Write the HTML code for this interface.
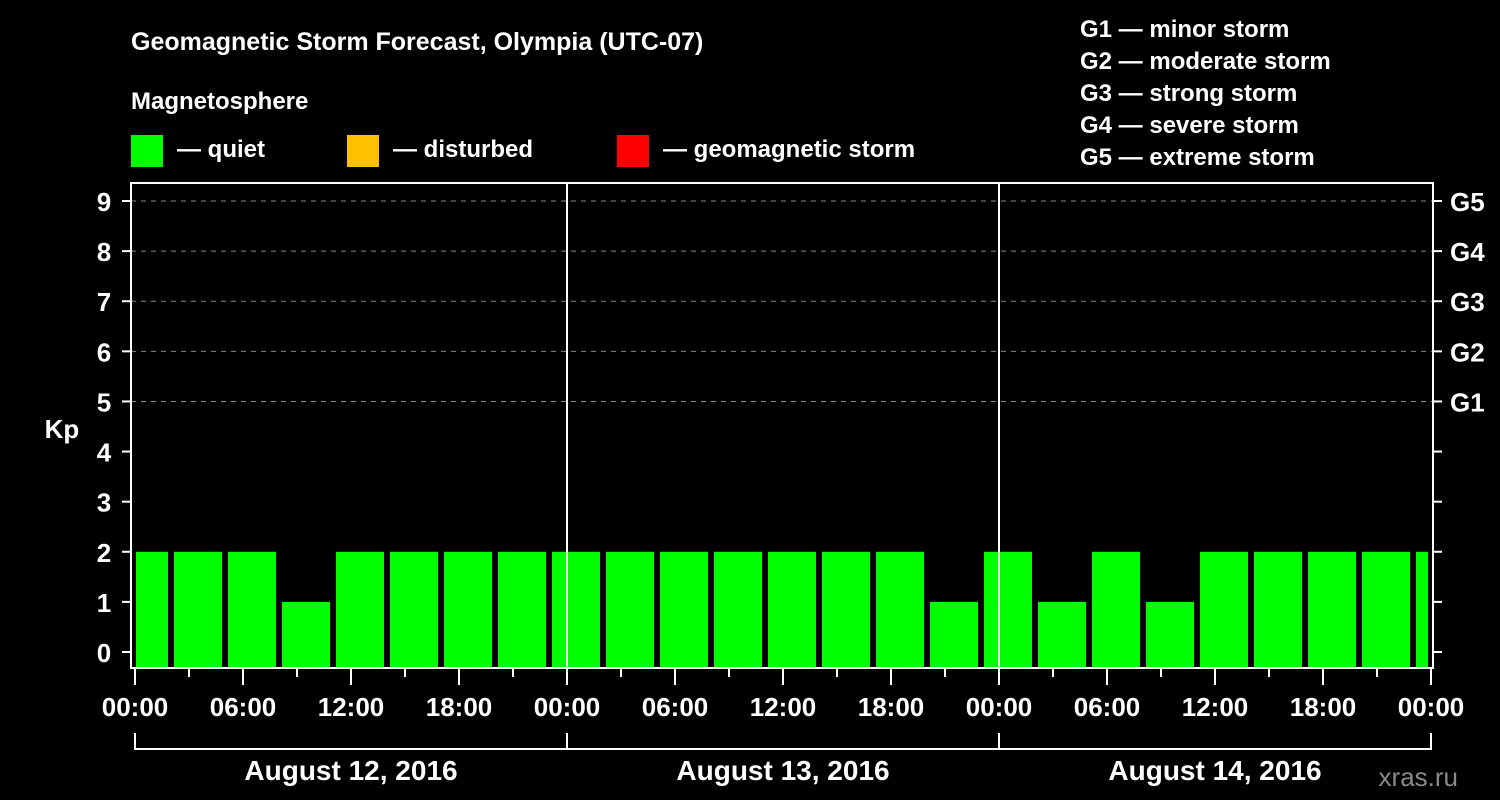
<!DOCTYPE html>
<html><head><meta charset="utf-8"><style>
body{margin:0;background:#000;width:1500px;height:800px;overflow:hidden}
svg{display:block}
text{font-family:"Liberation Sans",sans-serif;font-weight:bold;fill:#fff}
</style></head><body>
<svg id="c" width="1500" height="800">
<text x="131" y="50" font-size="25">Geomagnetic Storm Forecast, Olympia (UTC-07)</text>
<text x="131" y="109" font-size="24">Magnetosphere</text>
<g><rect x="131" y="135" width="32" height="32" fill="#00ff00"/><text x="177" y="157" font-size="24">— quiet</text></g>
<g><rect x="347" y="135" width="32" height="32" fill="#ffc000"/><text x="393" y="157" font-size="24">— disturbed</text></g>
<g><rect x="617" y="135" width="32" height="32" fill="#ff0000"/><text x="663" y="157" font-size="24">— geomagnetic storm</text></g>
<g font-size="24">
<text x="1080" y="37">G1 — minor storm</text>
<text x="1080" y="69">G2 — moderate storm</text>
<text x="1080" y="101">G3 — strong storm</text>
<text x="1080" y="133">G4 — severe storm</text>
<text x="1080" y="165">G5 — extreme storm</text>
</g>
<text x="62" y="438" font-size="26" text-anchor="middle">Kp</text>
<text x="1458" y="786" font-size="26" fill="#888" style="fill:#8a8a8a;font-weight:normal" text-anchor="end">xras.ru</text>
<g id="grid"></g><g id="bars"></g><g id="axes"></g>
<rect x="131" y="183" width="1302" height="485" fill="none" stroke="#fff" stroke-width="2"/>
</svg>
<script>
const kpValues=[2,2,2,1,2,2,2,2,2,2,2,2,2,2,2,1,2,1,2,1,2,2,2,2,2];
const dayLabels=["August 12, 2016","August 13, 2016","August 14, 2016"];
const hourLabels=["00:00","06:00","12:00","18:00"];
const yTicks=[0,1,2,3,4,5,6,7,8,9];
const gLabels=["G1","G2","G3","G4","G5"];
const tzOffsetHours=-1;
const NS="http://www.w3.org/2000/svg";
const X0=135,PXH=18,Y0=652,PXK=50.11,BOT=668,LEFT=135,RIGHT=1428;
const xs=h=>X0+h*PXH, ys=k=>Y0-k*PXK;
function mk(t,a,p){const e=document.createElementNS(NS,t);for(const k in a)e.setAttribute(k,a[k]);p.appendChild(e);return e;}
const grid=document.getElementById('grid'),bars=document.getElementById('bars'),axes=document.getElementById('axes');
yTicks.forEach(k=>{
 const y=ys(k);
 if(k>=5){const l=mk('line',{x1:131,x2:1433,y1:y,y2:y,stroke:'#888','stroke-dasharray':'5,5','stroke-width':1},grid);
 
 }
 const t1=mk('line',{x1:122,x2:131,y1:y,y2:y,stroke:'#fff','stroke-width':2},axes);
 
 
 const t2=mk('line',{x1:1433,x2:1442,y1:y,y2:y,stroke:'#fff','stroke-width':2},axes);
 
 
 const tx=mk('text',{x:104,y:y+10,'font-size':26,'text-anchor':'middle'},axes);tx.textContent=k;
 
 
});
gLabels.forEach((g,i)=>{
 const t=mk('text',{x:1450,y:ys(5+i)+10,'font-size':26},axes);t.textContent=g;
 
 
});
kpValues.forEach((v,i)=>{
 let x1=xs(tzOffsetHours+3*i)+3,x2=xs(tzOffsetHours+3*i+3)-3;
 x1=Math.max(x1,LEFT+1);x2=Math.min(x2,RIGHT);
 if(x2<=x1)return;
 const c=v>=5?'#ff0000':(v>=4?'#ffc000':'#00ff00');
 const r=mk('rect',{x:x1,y:ys(v),width:x2-x1,height:BOT-ys(v),fill:c},bars);
 
 
});
for(let d=0;d<dayLabels.length;d++){
 for(let h=0;h<24;h+=3){
  const x=xs(d*24+h);const major=h%6===0;
  const t=mk('line',{x1:x,x2:x,y1:668,y2:major?685:677,stroke:'#fff','stroke-width':2},axes);
  
  
  if(major){const tx=mk('text',{x:x,y:716,'font-size':26,'text-anchor':'middle'},axes);tx.textContent=hourLabels[h/6];
  
  }
 }
 const xa=xs(d*24),xb=xs(d*24+24);
 const dl=mk('text',{x:(xa+xb)/2,y:780,'font-size':28,'text-anchor':'middle'},axes);dl.textContent=dayLabels[d];
 
 
 if(d>0){const s=mk('line',{x1:xa,x2:xa,y1:183,y2:668,stroke:'#fff','stroke-width':2},axes);
 
 }
}
const nd=dayLabels.length;
const tl=mk('line',{x1:xs(0),x2:xs(nd*24),y1:749,y2:749,stroke:'#fff','stroke-width':2},axes);


for(let d=0;d<=nd;d++){const x=xs(d*24);
 const b=mk('line',{x1:x,x2:x,y1:733,y2:750,stroke:'#fff','stroke-width':2},axes);
 
 
 const t=mk('text',{x:x,y:716,'font-size':26,'text-anchor':'middle'},axes);t.textContent=hourLabels[0];
 if(d<nd){t.remove();}else{
 
 
 const tk=mk('line',{x1:x,x2:x,y1:668,y2:685,stroke:'#fff','stroke-width':2},axes);
 
 }
}
</script>
</body></html>
